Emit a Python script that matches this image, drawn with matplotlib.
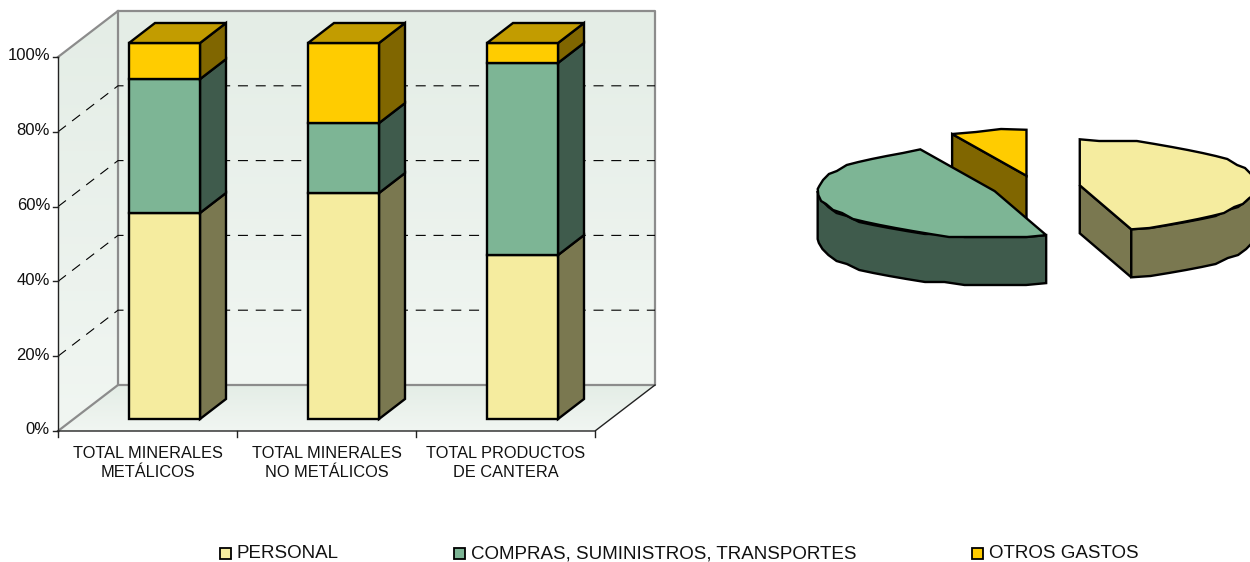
import numpy as np
import matplotlib
matplotlib.use('Agg')
import matplotlib.pyplot as plt
from matplotlib.patches import Polygon, Rectangle

plt.rcParams['font.family'] = ['Liberation Sans', 'DejaVu Sans']

# datos
categorias = ['TOTAL MINERALES\nMETÁLICOS', 'TOTAL MINERALES\nNO METÁLICOS', 'TOTAL PRODUCTOS\nDE CANTERA']
series = ['PERSONAL', 'COMPRAS, SUMINISTROS, TRANSPORTES', 'OTROS GASTOS']
personal = [54.8, 60.1, 43.6]
compras = [35.6, 18.6, 51.1]
otros = [9.6, 21.3, 5.3]
pie_valores = [45.3, 47.8, 6.9]
yticks = [0, 20, 40, 60, 80, 100]

colores = ['#F5EC9F', '#7DB595', '#FFCC00']
lados = ['#7A7850', '#3F5B4C', '#806600']
tope = '#C29C00'

fig = plt.figure(figsize=(12.5, 5.62), dpi=100)
ax = fig.add_axes([0, 0, 1, 1])
ax.set_xlim(0, 1250)
ax.set_ylim(562, 0)
ax.axis('off')

# geometria de la caja 3D (pixeles)
x0, x1 = 58, 595
y0, alto = 431, 374
dx, dy = 60, -46
ancho_cat = (x1 - x0) / 3
lw_bar = 1.7


def yv(v):
    return y0 - alto * v / 100


def poly(pts, fc, ec='black', lw=lw_bar, z=2):
    ax.add_patch(Polygon(pts, closed=True, fc=fc, ec=ec, lw=lw, zorder=z, joinstyle='miter'))


def gradiente(pts, c1, c2):
    g = np.linspace(0, 1, 256).reshape(-1, 1, 1)
    a = np.array(matplotlib.colors.to_rgb(c1)).reshape(1, 1, 3)
    b = np.array(matplotlib.colors.to_rgb(c2)).reshape(1, 1, 3)
    img = a + (b - a) * g
    xs, ys = zip(*pts)
    im = ax.imshow(img, extent=[min(xs), max(xs), max(ys), min(ys)], aspect='auto', zorder=1)
    im.set_clip_path(Polygon(pts, closed=True, transform=ax.transData))


# paredes y piso
pared = [(x0 + dx, yv(100) + dy), (x1 + dx, yv(100) + dy), (x1 + dx, y0 + dy), (x0 + dx, y0 + dy)]
lateral = [(x0, yv(100)), (x0 + dx, yv(100) + dy), (x0 + dx, y0 + dy), (x0, y0)]
piso = [(x0, y0), (x0 + dx, y0 + dy), (x1 + dx, y0 + dy), (x1, y0)]
gradiente(pared, '#E4EDE6', '#F1F6F2')
gradiente(lateral, '#E4EDE6', '#F1F6F2')
gradiente(piso, '#E4EDE6', '#F1F6F2')
ax.set_xlim(0, 1250)
ax.set_ylim(562, 0)

gris = '#8C8C8C'
ax.plot([x0, x0 + dx, x1 + dx, x1 + dx, x0 + dx, x0 + dx], [yv(100), yv(100) + dy, yv(100) + dy, y0 + dy, y0 + dy, yv(100) + dy],
        color=gris, lw=1.6, zorder=1.5)
ax.plot([x0, x0 + dx], [y0, y0 + dy], color=gris, lw=1.6, zorder=1.5)

# rejilla
for v in yticks[1:-1]:
    ax.plot([x0, x0 + dx, x1 + dx], [yv(v), yv(v) + dy, yv(v) + dy], color='black', lw=0.8,
            dashes=(9, 7), zorder=1.6)

# ejes
ax.plot([x0, x0], [yv(100), y0], color='#222222', lw=1, zorder=1.7)
ax.plot([x0, x1, x1 + dx], [y0, y0, y0 + dy], color='#222222', lw=1, zorder=1.7)
for v in yticks:
    ax.plot([x0 - 5, x0], [yv(v), yv(v)], color='#222222', lw=1)
    ax.text(x0 - 8, yv(v) - 1, f'{v}%', ha='right', va='center', fontsize=12, color='#111111')
for i in range(4):
    xt = x0 + i * ancho_cat
    ax.plot([xt, xt], [y0, y0 + 6], color='#222222', lw=1)
for i, c in enumerate(categorias):
    ax.text(x0 + (i + 0.5) * ancho_cat, 463, c, ha='center', va='center', fontsize=11.8,
            linespacing=1.35, color='#111111')

# barras apiladas
ancho_barra = 71
fdx, fdy = 17, -12
bdx, bdy = 26, -20
esc = 376 / 374
for i in range(3):
    xa = x0 + (i + 0.5) * ancho_cat + fdx - ancho_barra / 2
    xb = xa + ancho_barra
    base = 0
    for k, serie in enumerate([personal, compras, otros]):
        v = serie[i]
        ya = yv(base * esc) + fdy
        yb = yv((base + v) * esc) + fdy
        poly([(xb, ya), (xb + bdx, ya + bdy), (xb + bdx, yb + bdy), (xb, yb)], lados[k], z=3 + i)
        poly([(xa, ya), (xb, ya), (xb, yb), (xa, yb)], colores[k], z=3 + i)
        base += v
    yb = yv(base * esc) + fdy
    poly([(xa, yb), (xb, yb), (xb + bdx, yb + bdy), (xa + bdx, yb + bdy)], tope, z=3 + i)

# torta 3D con porciones separadas
cx, cy = 1036, 187
ra, rb = 177, 46
grosor = 48
sep = 0.25
ang = [90]
for v in pie_valores:
    ang.append(ang[-1] - v * 3.6)


def arco(ox, oy, a1, a2):
    t = np.radians(np.linspace(a1, a2, max(int(abs(a1 - a2) / 6), 2)))
    xs = ox + ra * np.cos(t)
    ys = oy - rb * np.sin(t)
    # trazo algo tosco, como el original
    ys[1:-1] = np.round(ys[1:-1] / 3) * 3
    return list(zip(xs, ys))


def cara_radial(ox, oy, a, color, z):
    q = (ox + ra * np.cos(np.radians(a)), oy - rb * np.sin(np.radians(a)))
    poly([(ox, oy), q, (q[0], q[1] + grosor), (ox, oy + grosor)], color, z=z)


for k, z in zip([2, 1, 0], [10, 11, 12]):
    a1, a2 = ang[k], ang[k + 1]
    m = np.radians((a1 + a2) / 2)
    ox = cx + sep * ra * np.cos(m)
    oy = cy - sep * rb * np.sin(m)
    if k == 2:
        cara_radial(ox, oy, a1, lados[k], z)
    if k == 0:
        cara_radial(ox, oy, a2, lados[k], z)
    # borde curvo frontal (solo la mitad de abajo de la elipse)
    pts = None
    if k == 1:
        pts = arco(ox, oy, a1, -180)
    if k == 0:
        pts = arco(ox, oy, a2, 0)
    if pts is not None:
        poly(pts + [(x, y + grosor) for x, y in pts[::-1]], lados[k], z=z)
    poly([(ox, oy)] + arco(ox, oy, a1, a2), colores[k], z=z)

# leyenda
ley_x = [220, 454, 972]
for x, c, s in zip(ley_x, colores, series):
    ax.add_patch(Rectangle((x, 548), 11, 11, fc=c, ec='black', lw=1.3, zorder=5))
    ax.text(x + 17, 554, s, ha='left', va='center', fontsize=13.5, color='#111111')

fig.savefig('out.png', dpi=100)
